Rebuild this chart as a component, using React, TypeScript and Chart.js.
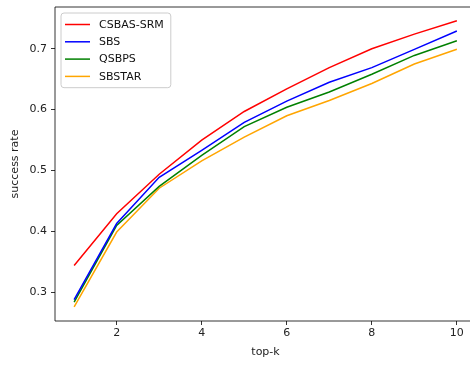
import React, { useEffect, useRef } from "react";
import { Chart, registerables } from "chart.js";

Chart.register(...registerables);

const topK = [1, 2, 3, 4, 5, 6, 7, 8, 9, 10];
const seriesNames = ["CSBAS-SRM", "SBS", "QSBPS", "SBSTAR"];
const csbasSrm = [0.344, 0.429, 0.494, 0.55, 0.597, 0.634, 0.669, 0.7, 0.724, 0.746];
const sbs = [0.288, 0.413, 0.489, 0.533, 0.579, 0.614, 0.645, 0.669, 0.699, 0.729];
const qsbps = [0.284, 0.41, 0.474, 0.525, 0.572, 0.604, 0.629, 0.658, 0.689, 0.713];
const sbstar = [0.276, 0.399, 0.471, 0.516, 0.555, 0.59, 0.615, 0.643, 0.675, 0.699];
const seriesColors = ["#ff0000", "#0000ff", "#008000", "#ffa500"];
const xTicks = [2, 4, 6, 8, 10];
const yTicks = [0.3, 0.4, 0.5, 0.6, 0.7];

const FONT = "'DejaVu Sans', sans-serif";
const FS = 11;

const boxLegendPlugin = {
  id: "boxLegend",
  afterDraw(chart: any) {
    const { ctx, chartArea } = chart;
    ctx.save();
    // axes spines
    ctx.strokeStyle = "#000";
    ctx.lineWidth = 0.8;
    ctx.beginPath();
    ctx.moveTo(chartArea.right, chartArea.top);
    ctx.lineTo(chartArea.left, chartArea.top);
    ctx.lineTo(chartArea.left, chartArea.bottom);
    ctx.lineTo(chartArea.right, chartArea.bottom);
    ctx.stroke();
    ctx.beginPath();
    ctx.moveTo(chartArea.right, chartArea.top);
    ctx.lineTo(chartArea.right, chartArea.bottom);
    ctx.stroke();

    // legend
    ctx.font = FS + "px " + FONT;
    const items = chart.data.datasets.map((d: any) => ({ label: d.label, color: d.borderColor }));
    let maxW = 0;
    items.forEach((it: any) => {
      maxW = Math.max(maxW, ctx.measureText(it.label).width);
    });
    const bx = chartArea.left + 6;
    const by = chartArea.top + 6;
    const rowH = 17.3;
    const textX = bx + 38;
    const bw = textX - bx + maxW + 7;
    const bh = items.length * rowH + 5.5;
    const r = 3;
    ctx.beginPath();
    ctx.moveTo(bx + r, by);
    ctx.lineTo(bx + bw - r, by);
    ctx.quadraticCurveTo(bx + bw, by, bx + bw, by + r);
    ctx.lineTo(bx + bw, by + bh - r);
    ctx.quadraticCurveTo(bx + bw, by + bh, bx + bw - r, by + bh);
    ctx.lineTo(bx + r, by + bh);
    ctx.quadraticCurveTo(bx, by + bh, bx, by + bh - r);
    ctx.lineTo(bx, by + r);
    ctx.quadraticCurveTo(bx, by, bx + r, by);
    ctx.closePath();
    ctx.fillStyle = "rgba(255,255,255,0.8)";
    ctx.fill();
    ctx.strokeStyle = "#cccccc";
    ctx.lineWidth = 1;
    ctx.stroke();

    items.forEach((it: any, i: number) => {
      const cy = by + 11.5 + i * rowH;
      ctx.beginPath();
      ctx.moveTo(bx + 4, cy);
      ctx.lineTo(bx + 29, cy);
      ctx.strokeStyle = it.color;
      ctx.lineWidth = 1.5;
      ctx.stroke();
      ctx.fillStyle = "#111";
      ctx.textBaseline = "middle";
      ctx.textAlign = "left";
      ctx.fillText(it.label, textX, cy + 0.5);
    });
    ctx.restore();
  },
};

export default function App() {
  const ref = useRef<HTMLCanvasElement | null>(null);

  useEffect(() => {
    document.body.style.margin = "0";
    document.body.style.overflow = "hidden";
    const canvas = ref.current;
    if (!canvas) return;
    const values = [csbasSrm, sbs, qsbps, sbstar];
    const chart = new Chart(canvas, {
      type: "line",
      data: {
        datasets: seriesNames.map((name, i) => ({
          label: name,
          data: topK.map((k, j) => ({ x: k, y: values[i][j] })),
          borderColor: seriesColors[i],
          backgroundColor: seriesColors[i],
          borderWidth: 1.5,
          pointRadius: 0,
          tension: 0,
          fill: false,
        })),
      },
      options: {
        responsive: false,
        animation: false,
        events: [],
        layout: { padding: { top: 7, right: 14, left: 0, bottom: 0 } },
        plugins: { legend: { display: false }, tooltip: { enabled: false } },
        scales: {
          x: {
            type: "linear",
            min: 0.55,
            max: 10.45,
            afterBuildTicks: (s: any) => {
              s.ticks = xTicks.map((v) => ({ value: v }));
            },
            afterFit: (s: any) => {
              s.height = 44;
              s.paddingLeft = 0;
              s.paddingRight = 0;
            },
            border: { display: false },
            grid: { display: true, drawOnChartArea: false, drawTicks: true, tickLength: 4, color: "#000", lineWidth: 0.8 },
            ticks: {
              padding: 2,
              color: "#222",
              font: { family: FONT, size: FS },
              maxRotation: 0,
              callback: (v: any) => String(v),
            },
            title: {
              display: true,
              text: "top-k",
              color: "#222",
              font: { family: FONT, size: FS },
              padding: { top: 0, bottom: 6 },
            },
          },
          y: {
            type: "linear",
            min: 0.253,
            max: 0.7685,
            afterBuildTicks: (s: any) => {
              s.ticks = yTicks.map((v) => ({ value: v }));
            },
            afterFit: (s: any) => {
              s.width = 55;
              s.paddingTop = 0;
              s.paddingBottom = 0;
            },
            border: { display: false },
            grid: { display: true, drawOnChartArea: false, drawTicks: true, tickLength: 4, color: "#000", lineWidth: 0.8 },
            ticks: {
              padding: 4,
              color: "#222",
              font: { family: FONT, size: FS },
              callback: (v: any) => Number(v).toFixed(1),
            },
            title: {
              display: true,
              text: "success rate",
              color: "#222",
              font: { family: FONT, size: FS },
              padding: { top: 9, bottom: 0 },
            },
          },
        },
      },
      plugins: [boxLegendPlugin],
    });
    return () => chart.destroy();
  }, []);

  return (
    <div style={{ width: 470, height: 365, overflow: "hidden", background: "#fff" }}>
      <canvas ref={ref} width={490} height={365} style={{ display: "block" }} />
    </div>
  );
}
